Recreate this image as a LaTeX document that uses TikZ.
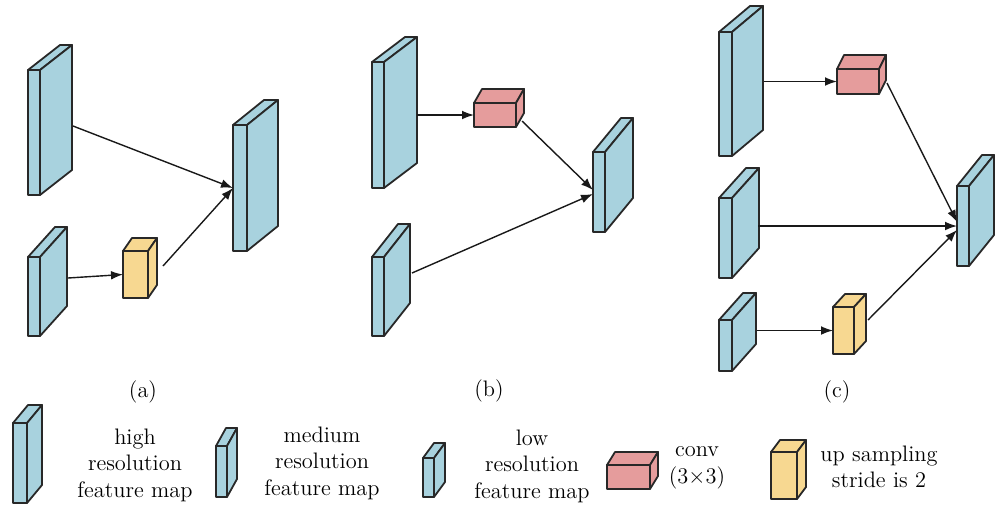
\documentclass[tikz,border=0pt]{standalone}
\usepackage{fontspec}
\usetikzlibrary{arrows.meta}

\definecolor{mapblue}{RGB}{168,210,222}
\definecolor{convred}{RGB}{229,156,156}
\definecolor{upyellow}{RGB}{247,216,145}
\definecolor{edgegray}{RGB}{40,40,40}

\tikzset{
  face/.style={draw=edgegray, line width=0.9pt, line join=round, inner sep=0pt, outer sep=0pt},
  arr/.style={draw=black!90, line width=0.7pt, -{Latex[length=6pt,width=4.4pt]}},
  lbl/.style={font=\fontsize{11.2}{13.3}\selectfont, align=center, inner sep=0pt},
}

% block: name, x, y (front top-left), width, height, depth dx, depth dy, colour
\newcommand\blockbox[8]{%
  \node[face, fill=#8, minimum width=#4*0.5pt, minimum height=#5*0.5pt, anchor=north west] (#1) at (#2,#3) {};
  \filldraw[face, fill=#8] (#1.north west) -- ++(#6,#7) -- ++(#4,0) -- (#1.north east) -- cycle;
  \filldraw[face, fill=#8] (#1.north east) -- ++(#6,#7) -- ++(0,#5) -- (#1.south east) -- cycle;
}

\begin{document}
\begin{tikzpicture}[x=0.5pt, y=-0.5pt]
\useasboundingbox (0,0) rectangle (995,505);

% ---- (a) ----
\blockbox{hA}{28}{70}{12}{125}{32}{-25}{mapblue}
\blockbox{mA}{28}{257}{12}{79}{27}{-30}{mapblue}
\blockbox{uA}{123}{251}{25}{47}{9}{-13}{upyellow}
\blockbox{oA}{233}{125}{14}{126}{31}{-25}{mapblue}
\coordinate (hA-o) at (73,126);
\coordinate (mA-o) at (68,278);
\coordinate (uA-o) at (163,266);
\draw[arr] (hA-o) -- (oA.west);
\draw[arr] (mA-o) -- (uA.west);
\draw[arr] (uA-o) -- (oA.west);
\node[lbl] (la) at (143,392) {(a)};

% ---- (b) ----
\blockbox{hB}{372}{62}{12}{126}{33}{-25}{mapblue}
\blockbox{cB}{474}{103}{42}{24}{8}{-14}{convred}
\blockbox{mB}{372}{257}{12}{79}{26}{-33}{mapblue}
\blockbox{oB}{593}{152}{12}{80}{28}{-34}{mapblue}
\coordinate (hB-o) at (417,115);
\coordinate (cB-o) at (522,121);
\coordinate (mB-o) at (412,273);
\draw[arr] (hB-o) -- (cB.west);
\draw[arr] (cB-o) -- ([yshift=1pt]oB.west);
\draw[arr] (mB-o) -- ([yshift=-1pt]oB.west);
\node[lbl] (lb) at (489,391) {(b)};

% ---- (c) ----
\blockbox{hC}{719}{32}{13}{124}{31}{-26}{mapblue}
\blockbox{cC}{837}{69}{42}{25}{7}{-14}{convred}
\blockbox{mC}{719}{198}{13}{80}{27}{-30}{mapblue}
\blockbox{lC}{719}{320}{13}{51}{24}{-27}{mapblue}
\blockbox{uC}{833}{307}{21}{47}{12}{-13}{upyellow}
\blockbox{oC}{957}{186}{12}{80}{25}{-31}{mapblue}
\coordinate (hC-o) at (764,81.5);
\coordinate (cC-o) at (887,83);
\coordinate (mC-o) at (758,226);
\coordinate (lC-o) at (757,330.5);
\coordinate (uC-o) at (868,320);
\draw[arr] (hC-o) -- (cC.west);
\draw[arr] (cC-o) -- ([yshift=2pt]oC.west);
\draw[arr] (mC-o) -- (oC.west);
\draw[arr] (lC-o) -- (uC.west);
\draw[arr] (uC-o) -- ([yshift=-2pt]oC.west);
\node[lbl] (lc) at (837,392) {(c)};

% ---- legend ----
\blockbox{hL}{13}{423}{14}{80}{15}{-18}{mapblue}
\node[lbl] (thL) at (135,465) {high\\resolution\\feature map};
\blockbox{mL}{216}{446}{11}{51}{10}{-18}{mapblue}
\node[lbl] (tmL) at (322,463) {medium\\resolution\\feature map};
\blockbox{lL}{423}{458}{11}{39}{11}{-15}{mapblue}
\node[lbl] (tlL) at (532,466) {low\\resolution\\feature map};
\blockbox{cL}{607}{465}{43}{24}{8}{-13}{convred}
\node[lbl] (tcL) at (697,468) {conv\\(3×3)};
\blockbox{uL}{771}{452}{26}{47}{9}{-12}{upyellow}
\node[lbl] (tuL) at (879,467) {up sampling\\stride is 2};

\end{tikzpicture}
\end{document}
